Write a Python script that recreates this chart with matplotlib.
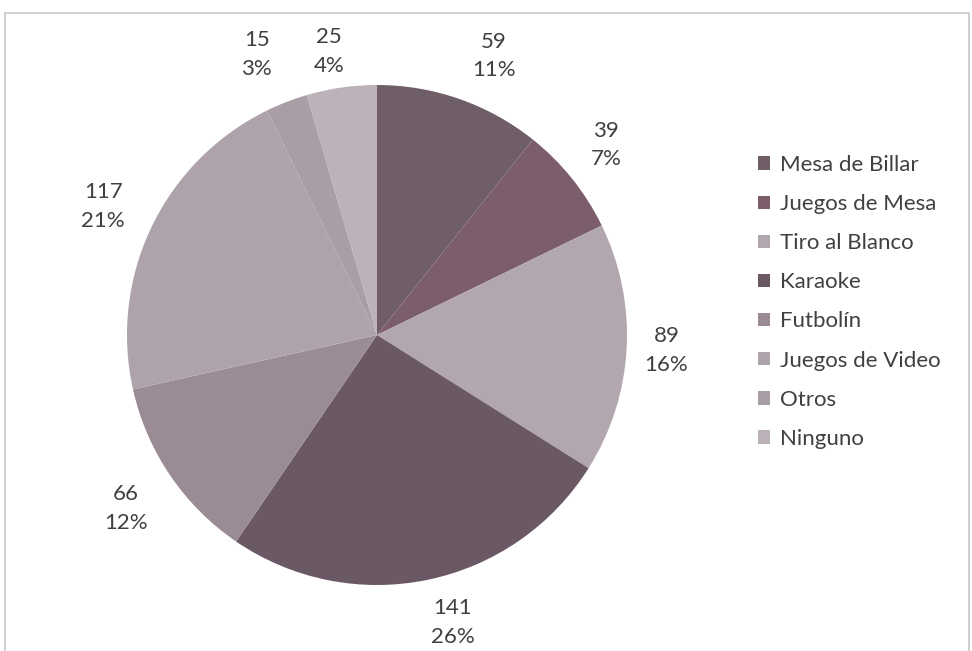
import numpy as np
import matplotlib
matplotlib.use("Agg")
import matplotlib.pyplot as plt
from matplotlib.patches import Rectangle

# ── DATA ──────────────────────────────────────────────────────────────────────
categories = ["Mesa de Billar", "Juegos de Mesa", "Tiro al Blanco", "Karaoke",
              "Futbolín", "Juegos de Video", "Otros", "Ninguno"]
counts = [59, 39, 89, 141, 66, 117, 15, 25]
percents = [11, 7, 16, 26, 12, 21, 3, 4]
colors = ["#6f5e68", "#7b5d6c", "#b3a7af", "#6a5864",
          "#9b8b95", "#aea3aa", "#a99ea5", "#bcb2b9"]

# label placement (distance from centre in radii, angular nudge in degrees)
label_dist = [1.21, 1.19, 1.16, 1.19, 1.22, 1.21, 1.22, 1.15]
label_nudge = [-3.5, 1.0, 0.0, 3.0, 0.5, 0.5, 2.0, 1.5]

TEXT = "#404040"
plt.rcParams["font.family"] = ["Lato", "DejaVu Sans"]

W, H = 972, 651
fig = plt.figure(figsize=(W / 100, H / 100), dpi=100)

# chart frame
fig.patches.append(Rectangle((5 / W, -0.01), (W - 8) / W, (H - 13) / H + 0.01,
                             transform=fig.transFigure, fill=False,
                             edgecolor="#c8c8c8", linewidth=1.2))

# pie area
cx, cy, r = 377, 335, 250
ax = fig.add_axes([(cx - r) / W, (H - cy - r) / H, 2 * r / W, 2 * r / H])
wedges, _ = ax.pie(counts, colors=colors, startangle=90, counterclock=False,
                   wedgeprops=dict(linewidth=0))
for w, c, p, d, n in zip(wedges, counts, percents, label_dist, label_nudge):
    ang = np.deg2rad((w.theta1 + w.theta2) / 2 + n)
    ax.text(d * np.cos(ang), d * np.sin(ang), f"{c}\n{p}%", ha="center",
            va="center", fontsize=16, color=TEXT, linespacing=1.55)
ax.set_xlim(-1, 1)
ax.set_ylim(-1, 1)
ax.set_aspect("equal")
ax.axis("off")

fig.legend(wedges, categories, loc="upper left",
           bbox_to_anchor=(738 / W, 1 - 135 / H), frameon=False,
           fontsize=16, labelcolor=TEXT, handlelength=0.55, handleheight=0.55,
           handletextpad=0.45, labelspacing=0.86)

fig.savefig("out.png", dpi=100)
